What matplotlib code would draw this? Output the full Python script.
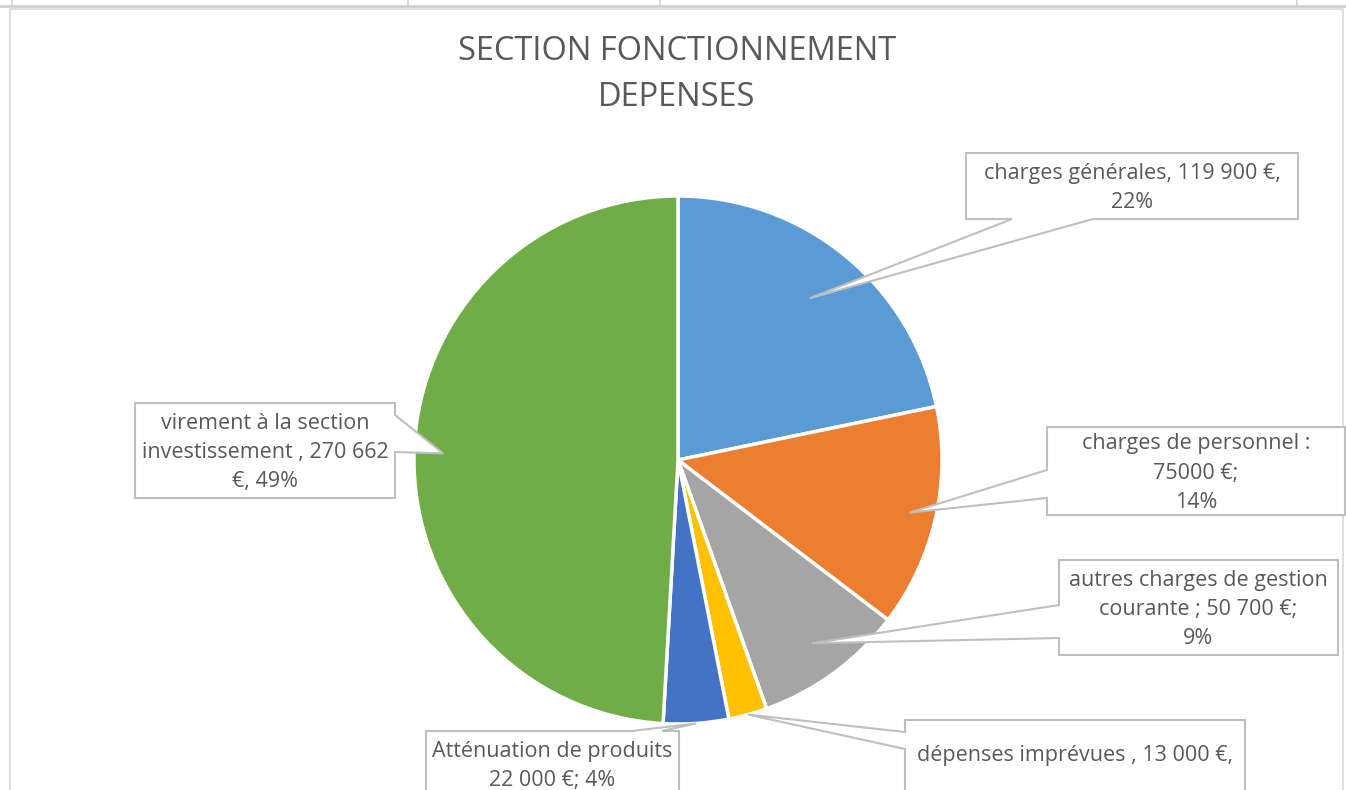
import matplotlib.pyplot as plt
from matplotlib.patches import Polygon, Rectangle
import numpy as np

W, H = 1346, 790

categories = ['charges générales', 'charges de personnel', 'autres charges de gestion courante',
              'dépenses imprévues', 'Atténuation de produits', 'virement à la section investissement']
values = [119900, 75000, 50700, 13000, 22000, 270662]
colors = ['#5B9BD5', '#ED7D31', '#A5A5A5', '#FFC000', '#4472C4', '#70AD47']
label_texts = [
    'charges générales, 119 900 €,\n22%',
    'charges de personnel :\n75000 €;\n14%',
    'autres charges de gestion\ncourante ; 50 700 €;\n9%',
    'dépenses imprévues , 13 000 €,',
    'Atténuation de produits\n22 000 €; 4%',
    'virement à la section\ninvestissement , 270 662\n€, 49%',
]

# callout layout (pixels): box x0, y0, x1, y1, pointer side, pointer base a-b, tip radius fraction
boxes = [
    (966, 153, 1298, 219, 'bottom', 1012, 1093, 0.79),
    (1047, 427, 1345, 515, 'left', 470, 498, 0.90),
    (1059, 560, 1338, 655, 'left', 605, 638, 0.86),
    (905, 720, 1245, 805, 'left', 732, 749, 1.00),
    (426, 731, 679, 805, 'top', 632, 662, 1.00),
    (135, 403, 395, 498, 'right', 415, 452, 0.89),
]

cx, cy, R = 678, 460, 264
txt_color = '#595959'
edge = '#BFBFBF'

fig = plt.figure(figsize=(W / 100, H / 100), dpi=100)
ax = fig.add_axes([0, 0, 1, 1])

# table lines on top and chart frame
ax.plot([0, W], [6, 6], color='#CFCFCF', lw=2, zorder=1)
for x in [12, 408, 660, 1297]:
    ax.plot([x, x], [0, 6], color='#CFCFCF', lw=1.2, zorder=1)
ax.add_patch(Rectangle((10, 9), 1333, 790, fill=False, ec='#D9D9D9', lw=1.2, zorder=1))

# y axis is inverted: startangle -90 with counterclock=True shows clockwise from top
wedges, _ = ax.pie(values, colors=colors, startangle=-90, counterclock=True,
                   center=(cx, cy), radius=R, frame=True,
                   wedgeprops=dict(edgecolor='white', linewidth=2.5))
ax.set_xlim(0, W)
ax.set_ylim(H, 0)
ax.set_aspect('equal')
ax.axis('off')

for w, txt, (x0, y0, x1, y1, side, a, b, frac) in zip(wedges, label_texts, boxes):
    mid = np.deg2rad((w.theta1 + w.theta2) / 2)
    tip = (cx + frac * R * np.cos(mid), cy + frac * R * np.sin(mid))
    tl, tr, br, bl = (x0, y0), (x1, y0), (x1, y1), (x0, y1)
    if side == 'top':
        pts = [tl, (a, y0), tip, (b, y0), tr, br, bl]
    elif side == 'right':
        pts = [tl, tr, (x1, a), tip, (x1, b), br, bl]
    elif side == 'bottom':
        pts = [tl, tr, br, (b, y1), tip, (a, y1), bl]
    else:
        pts = [tl, tr, br, bl, (x0, b), tip, (x0, a)]
    ax.add_patch(Polygon(pts, closed=True, fc='white', ec=edge, lw=1.5, zorder=5))
    ymid = (y0 + y1) / 2 + 2 if y1 < H else y0 + 35
    ax.text((x0 + x1) / 2, ymid, txt, ha='center', va='center', fontsize=15.5,
            family='Open Sans', color=txt_color, linespacing=1.5, zorder=6)

ax.text(677, 52, 'SECTION FONCTIONNEMENT', ha='center', va='center', fontsize=23.5,
        family='Open Sans', color=txt_color)
ax.text(677, 98, 'DEPENSES', ha='center', va='center', fontsize=23.5,
        family='Open Sans', color=txt_color)

fig.savefig('out.png', dpi=100)
